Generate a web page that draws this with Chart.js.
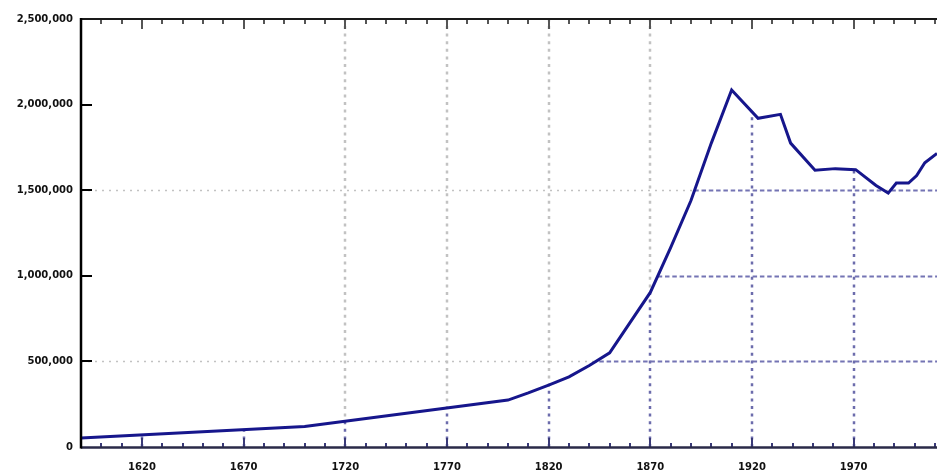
<!DOCTYPE html>
<html>
<head>
<meta charset="utf-8">
<script src="https://cdn.jsdelivr.net/npm/chart.js@4"></script>
<style>
  html, body { margin: 0; padding: 0; background: #fff; }
  #wrap { width: 937px; height: 471px; }
</style>
</head>
<body>
<div id="wrap"><canvas id="chart"></canvas></div>
<script>
// Population series
const YEARS = [1590, 1700, 1800, 1810, 1820, 1830, 1840, 1850, 1870, 1880, 1890, 1900, 1910,
               1923, 1934, 1939, 1951, 1961, 1971, 1981, 1987, 1991, 1997, 2001, 2005, 2011];
const POPULATION = [53000, 120000, 274000, 316000, 362000, 410000, 476000, 550000, 903000,
                    1165000, 1440000, 1775000, 2085000, 1920000, 1943000, 1775000, 1617000,
                    1626000, 1620000, 1528000, 1483000, 1542000, 1542000, 1585000, 1660000, 1715000];

// Axis ticks
const X_LABELS = [1620, 1670, 1720, 1770, 1820, 1870, 1920, 1970];
const Y_TICKS = [0, 500000, 1000000, 1500000, 2000000, 2500000];
const Y_LABELS = ['0', '500,000', '1,000,000', '1,500,000', '2,000,000', '2,500,000'];

// Grid lines: gray ones run across the whole plot, blue ones only under the curve
const GRAY_X = [1720, 1770, 1820, 1870];
const GRAY_Y = [500000, 1500000];
const BLUE_X = [1620, 1670, 1720, 1770, 1820, 1870, 1920, 1970];
const BLUE_Y = [500000, 1000000, 1500000];

const X_MIN = 1590;
const X_MAX = 2011;

const points = YEARS.map((yr, i) => ({ x: yr, y: POPULATION[i] }));

function line(ctx, x1, y1, x2, y2) {
    ctx.beginPath();
    ctx.moveTo(x1, y1);
    ctx.lineTo(x2, y2);
    ctx.stroke();
}

// grid drawing, under the data line
const gridPlugin = {
    id: 'grid',
    beforeDatasetsDraw(chart) {
        const { ctx, chartArea: a, scales: { x, y } } = chart;
        const pts = chart.getDatasetMeta(0).data;

        ctx.save();
        ctx.beginPath();
        ctx.rect(a.left, a.top, a.right - a.left, a.bottom - a.top);
        ctx.clip();

        // gray dotted grid
        ctx.strokeStyle = '#c2c2c2';
        ctx.lineWidth = 2.5;
        ctx.setLineDash([3, 4.6]);
        GRAY_X.forEach(v => {
            const px = Math.round(x.getPixelForValue(v));
            line(ctx, px, a.bottom, px, a.top);
        });
        ctx.lineWidth = 1.6;
        ctx.setLineDash([2, 5]);
        GRAY_Y.forEach(v => {
            const py = Math.round(y.getPixelForValue(v)) + 0.5;
            line(ctx, a.left, py, a.right, py);
        });

        // area under curve: wipe and draw blue grid
        ctx.beginPath();
        ctx.moveTo(pts[0].x, pts[0].y);
        pts.forEach(p => ctx.lineTo(p.x, p.y));
        ctx.lineTo(pts[pts.length - 1].x, a.bottom);
        ctx.lineTo(pts[0].x, a.bottom);
        ctx.closePath();
        ctx.clip();
        ctx.setLineDash([]);
        ctx.fillStyle = '#fff';
        ctx.fillRect(a.left, a.top, a.right - a.left, a.bottom - a.top);

        ctx.strokeStyle = '#6c6cac';
        ctx.lineWidth = 2.5;
        ctx.setLineDash([3, 4.6]);
        BLUE_X.forEach(v => {
            const px = Math.round(x.getPixelForValue(v));
            line(ctx, px, a.bottom, px, a.top);
        });
        ctx.strokeStyle = '#7474b4';
        ctx.lineWidth = 1.8;
        ctx.setLineDash([4.5, 2.8]);
        BLUE_Y.forEach(v => {
            const py = Math.round(y.getPixelForValue(v)) + 0.5;
            line(ctx, a.left, py, a.right, py);
        });
        ctx.restore();
    },
    afterDatasetsDraw(chart) {
        const { ctx, chartArea: a, scales: { x, y } } = chart;
        ctx.save();
        ctx.setLineDash([]);

        // bottom and top ticks every 10 years
        for (let yr = X_MIN; yr <= X_MAX; yr += 10) {
            const px = Math.round(x.getPixelForValue(yr));
            const major = X_LABELS.includes(yr);
            ctx.lineWidth = 2;
            ctx.strokeStyle = '#3a3a78';
            line(ctx, px, a.bottom, px, a.bottom - (major ? 9 : 4));
            ctx.strokeStyle = '#555';
            line(ctx, px, a.top, px, a.top + (major ? 10 : 5));
        }

        // y ticks
        ctx.strokeStyle = '#000';
        ctx.lineWidth = 2;
        Y_TICKS.slice(1, -1).forEach(v => {
            const py = Math.round(y.getPixelForValue(v));
            line(ctx, a.left, py, a.left + 11, py);
        });

        // frame
        ctx.strokeStyle = '#2a2a48';
        ctx.lineWidth = 2.5;
        line(ctx, a.left, a.bottom + 0.5, a.right, a.bottom + 0.5);
        ctx.strokeStyle = '#1a1a1a';
        ctx.lineWidth = 2;
        line(ctx, a.left, a.top, a.right, a.top);
        ctx.strokeStyle = '#000';
        ctx.lineWidth = 2.5;
        line(ctx, a.left, a.top - 1, a.left, a.bottom + 1.5);
        ctx.restore();
    }
};

const tickFont = { family: 'DejaVu Sans', size: 10, weight: 'bold' };

new Chart(document.getElementById('chart').getContext('2d'), {
    type: 'line',
    data: {
        datasets: [{
            data: points,
            borderColor: '#16168c',
            borderWidth: 3,
            pointRadius: 0,
            tension: 0,
            fill: false,
            clip: false
        }]
    },
    options: {
        responsive: true,
        maintainAspectRatio: false,
        animation: false,
        layout: { padding: { top: 19, right: 0, bottom: 0, left: 0 } },
        plugins: {
            legend: { display: false },
            tooltip: { enabled: false }
        },
        scales: {
            x: {
                type: 'linear',
                min: X_MIN,
                max: X_MAX,
                grid: { display: false, drawTicks: false },
                border: { display: false },
                afterBuildTicks: scale => { scale.ticks = X_LABELS.map(v => ({ value: v })); },
                afterFit: scale => { scale.height = 24; },
                ticks: {
                    autoSkip: false,
                    maxRotation: 0,
                    padding: 14,
                    color: '#111',
                    font: tickFont,
                    callback: v => String(v)
                }
            },
            y: {
                type: 'linear',
                min: 0,
                max: 2500000,
                grid: { display: false, drawTicks: false },
                border: { display: false },
                afterBuildTicks: scale => { scale.ticks = Y_TICKS.map(v => ({ value: v })); },
                afterFit: scale => { scale.width = 81; },
                ticks: {
                    autoSkip: false,
                    padding: 8,
                    color: '#111',
                    font: tickFont,
                    callback: v => Y_LABELS[Y_TICKS.indexOf(v)]
                }
            }
        }
    },
    plugins: [gridPlugin]
});
</script>
</body>
</html>
